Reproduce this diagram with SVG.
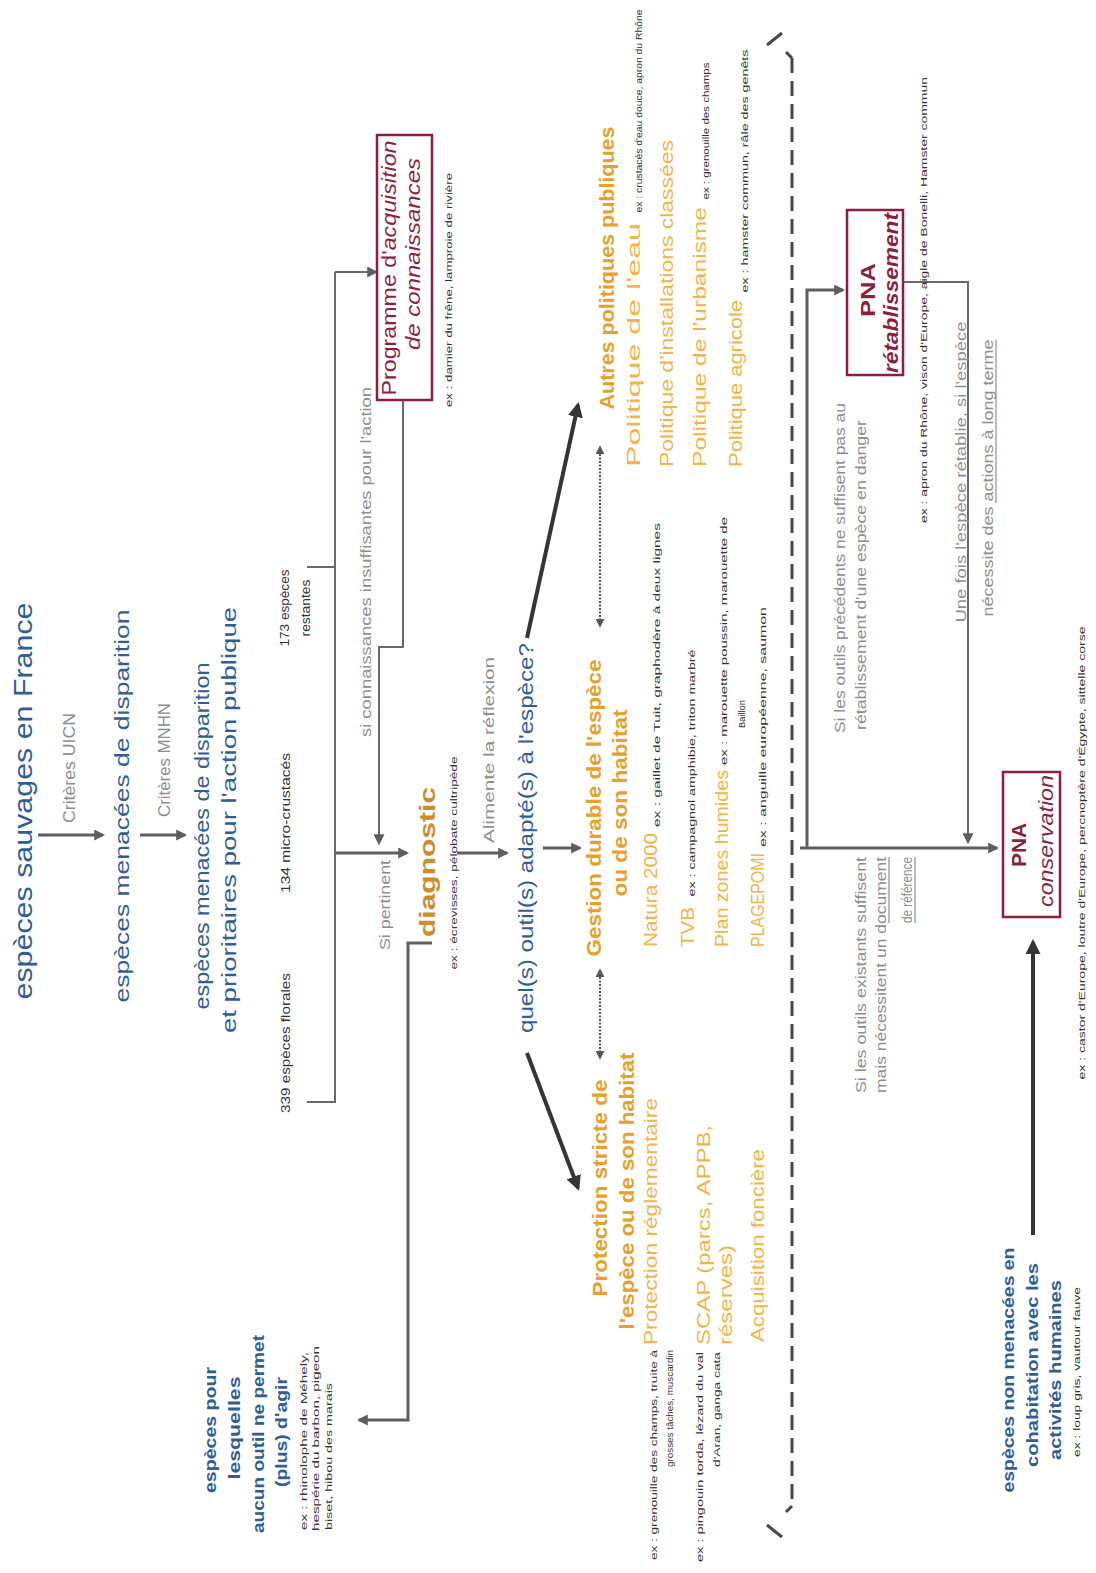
<svg xmlns="http://www.w3.org/2000/svg" width="1096" height="1573" viewBox="0 0 1096 1573">
<defs>
<style>
text{font-family:"Liberation Sans",Arial,Helvetica,sans-serif;text-anchor:middle}
.s{text-anchor:start}
.e{text-anchor:end}
.blue{fill:#2f5e93}
.blueb{fill:#2f5e93;font-weight:bold}
.gray{fill:#8e8e8e}
.ex{fill:#333;font-size:9px}
.num{fill:#333;font-size:13px}
.oh{fill:#e6a12c;font-weight:bold}
.oi{fill:#f1b54a}
.red{fill:#8c1f40}
.box{fill:#fff;stroke:#8c1f40;stroke-width:2.5}
.c{fill:none;stroke:#5e5e5e;stroke-width:3}
.ct{fill:none;stroke:#6a6a6a;stroke-width:2}
.cd{fill:none;stroke:#353535;stroke-width:4}
.dbl{fill:none;stroke:#555;stroke-width:2;stroke-dasharray:2 1.5}
.sep{fill:none;stroke:#484848;stroke-width:3;stroke-dasharray:15 8}
.ul{stroke:#8e8e8e;stroke-width:1.2}
</style>
<marker id="a" viewBox="0 0 10 10" refX="8" refY="5" markerWidth="11" markerHeight="11" markerUnits="userSpaceOnUse" orient="auto-start-reverse"><path d="M0,0L10,5L0,10z" fill="#5e5e5e"/></marker>
<marker id="ad" viewBox="0 0 10 10" refX="8" refY="5" markerWidth="15" markerHeight="15" markerUnits="userSpaceOnUse" orient="auto-start-reverse"><path d="M0,0L10,5L0,10z" fill="#353535"/></marker>
<marker id="as" viewBox="0 0 10 10" refX="8" refY="5" markerWidth="9" markerHeight="9" markerUnits="userSpaceOnUse" orient="auto-start-reverse"><path d="M0,0L10,5L0,10z" fill="#555"/></marker>
</defs>
<rect width="1096" height="1573" fill="#fff"/>

<g id="connectors">
<line class="c" x1="38" y1="835" x2="103" y2="835" marker-end="url(#a)"/>
<line class="c" x1="140" y1="835" x2="185" y2="835" marker-end="url(#a)"/>
<path class="ct" d="M307,567H335M307,1102H335V272"/>
<line class="ct" x1="335" y1="272" x2="376" y2="272" marker-end="url(#a)"/>
<line class="c" x1="335" y1="853" x2="407" y2="853" marker-end="url(#a)"/>
<path class="ct" d="M403,400V647H379V843" marker-end="url(#a)"/>
<line class="c" x1="457" y1="853" x2="507" y2="853" marker-end="url(#a)"/>
<line class="c" x1="543" y1="848" x2="580" y2="848" marker-end="url(#a)"/>
<line class="cd" x1="527" y1="638" x2="578" y2="405" marker-end="url(#ad)"/>
<line class="cd" x1="527" y1="1053" x2="578" y2="1188" marker-end="url(#ad)"/>
<line class="dbl" x1="600" y1="447" x2="600" y2="626" marker-start="url(#as)" marker-end="url(#as)"/>
<line class="dbl" x1="600" y1="970" x2="600" y2="1058" marker-start="url(#as)" marker-end="url(#as)"/>
<path class="c" d="M432,943H408V1420H359" marker-end="url(#a)"/>
<line class="sep" x1="792" y1="58" x2="792" y2="1505"/>
<path fill="none" stroke="#484848" stroke-width="3" d="M767,45L782,33M786,52L792,58M767,1525L782,1537M786,1512L792,1506"/>
<line class="c" x1="800" y1="848" x2="997" y2="848" marker-end="url(#a)"/>
<path class="c" d="M807,848V290H843" marker-end="url(#a)"/>
<path class="ct" d="M903,282H968V842" marker-end="url(#a)"/>
<line class="cd" x1="1033" y1="1235" x2="1033" y2="942" marker-end="url(#ad)"/>
</g>

<g id="n-especes-sauvages">
<text class="blue" font-size="25" transform="translate(32,801) rotate(-90)" textLength="397" lengthAdjust="spacingAndGlyphs">espèces sauvages en France</text>
</g>
<g id="l-criteres-uicn">
<text class="gray" font-size="16" transform="translate(75,768) rotate(-90)" textLength="110" lengthAdjust="spacingAndGlyphs">Critères UICN</text>
</g>
<g id="n-especes-menacees">
<text class="blue" font-size="21" transform="translate(129,806) rotate(-90)" textLength="393" lengthAdjust="spacingAndGlyphs">espèces menacées de disparition</text>
</g>
<g id="l-criteres-mnhn">
<text class="gray" font-size="16" transform="translate(170,760) rotate(-90)" textLength="114" lengthAdjust="spacingAndGlyphs">Critères MNHN</text>
</g>
<g id="n-especes-prioritaires">
<text class="blue" font-size="21" transform="translate(209,836) rotate(-90)" textLength="347" lengthAdjust="spacingAndGlyphs">espèces menacées de disparition</text>
<text class="blue" font-size="21" transform="translate(236,820) rotate(-90)" textLength="426" lengthAdjust="spacingAndGlyphs">et prioritaires pour l'action publique</text>
</g>
<g id="n-339">
<text class="num" transform="translate(290,1043) rotate(-90)" textLength="140" lengthAdjust="spacingAndGlyphs">339 espèces florales</text>
</g>
<g id="n-134">
<text class="num" transform="translate(290,823) rotate(-90)" textLength="140" lengthAdjust="spacingAndGlyphs">134 micro-crustacés</text>
</g>
<g id="n-173">
<text class="num" transform="translate(289,608) rotate(-90)" textLength="77" lengthAdjust="spacingAndGlyphs">173 espèces</text>
<text class="num" transform="translate(310,608) rotate(-90)" textLength="57" lengthAdjust="spacingAndGlyphs">restantes</text>
</g>
<g id="l-si-connaissances">
<text class="gray" font-size="15" transform="translate(371,562) rotate(-90)" textLength="350" lengthAdjust="spacingAndGlyphs">si connaissances insuffisantes pour l'action</text>
</g>
<g id="l-si-pertinent">
<text class="gray" font-size="15" transform="translate(390,905) rotate(-90)" textLength="90" lengthAdjust="spacingAndGlyphs">Si pertinent</text>
</g>
<g id="n-programme">
<rect class="box" x="377" y="135" width="55" height="265"/>
<text class="red" font-size="20" transform="translate(396,268) rotate(-90)" textLength="255" lengthAdjust="spacingAndGlyphs">Programme d'<tspan font-style="italic">acquisition</tspan></text>
<text class="red" font-size="20" font-style="italic" transform="translate(420,254) rotate(-90)" textLength="192" lengthAdjust="spacingAndGlyphs">de connaissances</text>
<text class="ex" transform="translate(452,290) rotate(-90)" textLength="234" lengthAdjust="spacingAndGlyphs">ex : damier du frêne, lamproie de rivière</text>
</g>
<g id="n-diagnostic">
<text font-size="22" font-weight="bold" fill="#cf8c2c" transform="translate(435,862) rotate(-90)" textLength="150" lengthAdjust="spacingAndGlyphs">diagnostic</text>
<text class="ex" transform="translate(457,863) rotate(-90)" textLength="213" lengthAdjust="spacingAndGlyphs">ex : écrevisses, pélobate cultripède</text>
</g>
<g id="l-alimente">
<text class="gray" font-size="15" transform="translate(494,750) rotate(-90)" textLength="186" lengthAdjust="spacingAndGlyphs">Alimente la réflexion</text>
</g>
<g id="n-quel-outil">
<text class="blue" font-size="21" transform="translate(533,838) rotate(-90)" textLength="390" lengthAdjust="spacingAndGlyphs">quel(s) outil(s) adapté(s) à l'espèce?</text>
</g>
<g id="n-autres-politiques">
<text class="oh" font-size="20" transform="translate(614,268) rotate(-90)" textLength="283" lengthAdjust="spacingAndGlyphs">Autres politiques publiques</text>
<text class="oi s" font-size="19" transform="translate(640,467) rotate(-90)" textLength="244" lengthAdjust="spacingAndGlyphs">Politique de l'eau</text>
<text class="ex" transform="translate(642,111) rotate(-90)" textLength="203" lengthAdjust="spacingAndGlyphs">ex : crustacés d'eau douce, apron du Rhône</text>
<text class="oi s" font-size="19" transform="translate(673,467) rotate(-90)" textLength="327" lengthAdjust="spacingAndGlyphs">Politique d'installations classées</text>
<text class="oi s" font-size="19" transform="translate(706,467) rotate(-90)" textLength="260" lengthAdjust="spacingAndGlyphs">Politique de l'urbanisme</text>
<text class="ex" transform="translate(709,131) rotate(-90)" textLength="137" lengthAdjust="spacingAndGlyphs">ex : grenouille des champs</text>
<text class="oi s" font-size="19" transform="translate(742,467) rotate(-90)" textLength="167" lengthAdjust="spacingAndGlyphs">Politique agricole</text>
<text class="ex" transform="translate(748,171) rotate(-90)" textLength="243" lengthAdjust="spacingAndGlyphs">ex : hamster commun, râle des genêts</text>
</g>
<g id="n-gestion-durable">
<text class="oh" font-size="20" transform="translate(601,808) rotate(-90)" textLength="297" lengthAdjust="spacingAndGlyphs">Gestion durable de l'espèce</text>
<text class="oh" font-size="20" transform="translate(627,803) rotate(-90)" textLength="187" lengthAdjust="spacingAndGlyphs">ou de son habitat</text>
<text class="oi s" font-size="19" transform="translate(657,947) rotate(-90)" textLength="114" lengthAdjust="spacingAndGlyphs">Natura 2000</text>
<text class="ex" transform="translate(660,675) rotate(-90)" textLength="304" lengthAdjust="spacingAndGlyphs">ex : gaillet de Tuit, graphodère à deux lignes</text>
<text class="oi s" font-size="19" transform="translate(694,947) rotate(-90)" textLength="40" lengthAdjust="spacingAndGlyphs">TVB</text>
<text class="ex" transform="translate(695,773) rotate(-90)" textLength="247" lengthAdjust="spacingAndGlyphs">ex : campagnol amphibie, triton marbré</text>
<text class="oi s" font-size="19" transform="translate(728,947) rotate(-90)" textLength="177" lengthAdjust="spacingAndGlyphs">Plan zones humides</text>
<text class="ex" transform="translate(727,641) rotate(-90)" textLength="248" lengthAdjust="spacingAndGlyphs">ex : marouette poussin, marouette de</text>
<text class="ex" transform="translate(745,714) rotate(-90)" textLength="28" lengthAdjust="spacingAndGlyphs">Baillon</text>
<text class="oi s" font-size="19" transform="translate(764,947) rotate(-90)" textLength="94" lengthAdjust="spacingAndGlyphs">PLAGEPOMI</text>
<text class="ex" transform="translate(766,727) rotate(-90)" textLength="240" lengthAdjust="spacingAndGlyphs">ex : anguille européenne, saumon</text>
</g>
<g id="n-protection-stricte">
<text class="oh" font-size="20" transform="translate(607,1188) rotate(-90)" textLength="217" lengthAdjust="spacingAndGlyphs">Protection stricte de</text>
<text class="oh" font-size="20" transform="translate(634,1191) rotate(-90)" textLength="277" lengthAdjust="spacingAndGlyphs">l'espèce ou de son habitat</text>
<text class="oi s" font-size="19" transform="translate(657,1345) rotate(-90)" textLength="247" lengthAdjust="spacingAndGlyphs">Protection réglementaire</text>
<text class="ex e" transform="translate(657,1350) rotate(-90)" textLength="210" lengthAdjust="spacingAndGlyphs">ex : grenouille des champs, truite à</text>
<text class="ex e" transform="translate(673,1350) rotate(-90)" textLength="117" lengthAdjust="spacingAndGlyphs">grosses tâches, muscardin</text>
<text class="oi s" font-size="19" transform="translate(710,1345) rotate(-90)" textLength="220" lengthAdjust="spacingAndGlyphs">SCAP (parcs, APPB,</text>
<text class="oi s" font-size="19" transform="translate(732,1345) rotate(-90)" textLength="100" lengthAdjust="spacingAndGlyphs">réserves)</text>
<text class="ex e" transform="translate(703,1352) rotate(-90)" textLength="210" lengthAdjust="spacingAndGlyphs">ex : pingouin torda, lézard du val</text>
<text class="ex e" transform="translate(720,1352) rotate(-90)" textLength="115" lengthAdjust="spacingAndGlyphs">d'Aran, ganga cata</text>
<text class="oi s" font-size="19" transform="translate(764,1342) rotate(-90)" textLength="193" lengthAdjust="spacingAndGlyphs">Acquisition foncière</text>
</g>
<g id="n-aucun-outil">
<text class="blueb" font-size="17" transform="translate(216,1430) rotate(-90)" textLength="126" lengthAdjust="spacingAndGlyphs">espèces pour</text>
<text class="blueb" font-size="17" transform="translate(240,1428) rotate(-90)" textLength="103" lengthAdjust="spacingAndGlyphs">lesquelles</text>
<text class="blueb" font-size="17" transform="translate(264,1434) rotate(-90)" textLength="198" lengthAdjust="spacingAndGlyphs">aucun outil ne permet</text>
<text class="blueb" font-size="17" transform="translate(287,1432) rotate(-90)" textLength="110" lengthAdjust="spacingAndGlyphs">(plus) d'agir</text>
<text class="ex s" transform="translate(307,1530) rotate(-90)" textLength="178" lengthAdjust="spacingAndGlyphs">ex : rhinolophe de Méhely,</text>
<text class="ex s" transform="translate(319,1531) rotate(-90)" textLength="185" lengthAdjust="spacingAndGlyphs">hespérie du barbon, pigeon</text>
<text class="ex s" transform="translate(332,1530) rotate(-90)" textLength="147" lengthAdjust="spacingAndGlyphs">biset, hibou des marais</text>
</g>
<g id="l-si-precedents">
<text class="gray" font-size="15" transform="translate(845,568) rotate(-90)" textLength="330" lengthAdjust="spacingAndGlyphs">Si les outils précédents ne suffisent pas au</text>
<text class="gray" font-size="15" transform="translate(866,575) rotate(-90)" textLength="310" lengthAdjust="spacingAndGlyphs">rétablissement d'une espèce en danger</text>
</g>
<g id="n-pna-retablissement">
<rect class="box" x="847" y="210" width="56" height="165"/>
<text class="red" font-size="20" font-weight="bold" transform="translate(875,290) rotate(-90)" textLength="54" lengthAdjust="spacingAndGlyphs">PNA</text>
<text class="red" font-size="20" font-weight="bold" font-style="italic" transform="translate(898,293) rotate(-90)" textLength="160" lengthAdjust="spacingAndGlyphs">rétablissement</text>
<text class="ex" transform="translate(927,300) rotate(-90)" textLength="446" lengthAdjust="spacingAndGlyphs">ex : apron du Rhône, vison d'Europe, aigle de Bonelli, Hamster commun</text>
</g>
<g id="l-une-fois">
<text class="gray" font-size="15" transform="translate(966,472) rotate(-90)" textLength="301" lengthAdjust="spacingAndGlyphs">Une fois l'espèce rétablie, si l'espèce</text>
<text class="gray" font-size="15" transform="translate(993,478) rotate(-90)" textLength="277" lengthAdjust="spacingAndGlyphs">nécessite des actions à long terme</text>
<line class="ul" x1="996" y1="340" x2="996" y2="503"/>
</g>
<g id="l-si-existants">
<text class="gray e" font-size="15" transform="translate(866,857) rotate(-90)" textLength="236" lengthAdjust="spacingAndGlyphs">Si les outils existants suffisent</text>
<text class="gray e" font-size="15" transform="translate(886,857) rotate(-90)" textLength="236" lengthAdjust="spacingAndGlyphs">mais nécessitent un document</text>
<text class="gray e" font-size="15" transform="translate(912,857) rotate(-90)" textLength="66" lengthAdjust="spacingAndGlyphs">de référence</text>
<line class="ul" x1="889" y1="857" x2="889" y2="923"/>
<line class="ul" x1="915" y1="857" x2="915" y2="923"/>
</g>
<g id="n-pna-conservation">
<rect class="box" x="1003" y="772" width="57" height="145"/>
<text class="red" font-size="20" font-weight="bold" transform="translate(1026,845) rotate(-90)" textLength="44" lengthAdjust="spacingAndGlyphs">PNA</text>
<text class="red" font-size="20" font-style="italic" transform="translate(1053,841) rotate(-90)" textLength="132" lengthAdjust="spacingAndGlyphs">conservation</text>
<text class="ex" transform="translate(1085,853) rotate(-90)" textLength="453" lengthAdjust="spacingAndGlyphs">ex : castor d'Europe, loutre d'Europe, percnoptère d'Égypte, sittelle corse</text>
</g>
<g id="n-non-menacees">
<text class="blueb" font-size="17" transform="translate(1014,1370) rotate(-90)" textLength="245" lengthAdjust="spacingAndGlyphs">espèces non menacées en</text>
<text class="blueb" font-size="17" transform="translate(1038,1365) rotate(-90)" textLength="204" lengthAdjust="spacingAndGlyphs">cohabitation avec les</text>
<text class="blueb" font-size="17" transform="translate(1061,1370) rotate(-90)" textLength="180" lengthAdjust="spacingAndGlyphs">activités humaines</text>
<text class="ex" transform="translate(1080,1372) rotate(-90)" textLength="170" lengthAdjust="spacingAndGlyphs">ex : loup gris, vautour fauve</text>
</g>
</svg>
